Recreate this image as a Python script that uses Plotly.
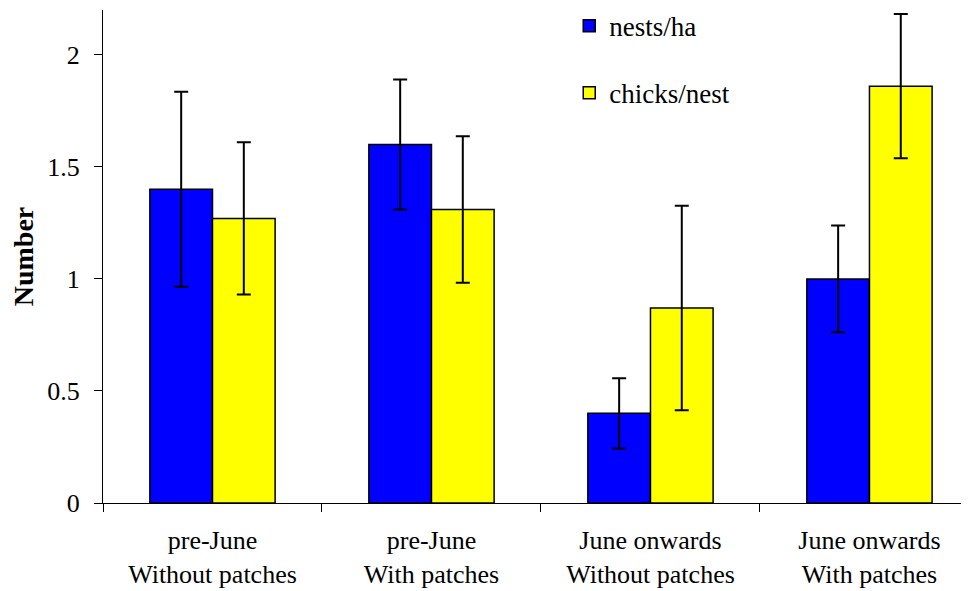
import plotly.graph_objects as go

categories = ["pre-June<br>Without patches", "pre-June<br>With patches",
              "June onwards<br>Without patches", "June onwards<br>With patches"]
nests_per_ha = [1.40, 1.60, 0.40, 1.00]
nests_err = [0.435, 0.29, 0.157, 0.238]
chicks_per_nest = [1.27, 1.31, 0.87, 1.86]
chicks_err = [0.34, 0.327, 0.456, 0.322]
y_ticks = [0, 0.5, 1, 1.5, 2]
y_tick_labels = ["0", "0.5", "1", "1.5", "2"]

FONT = "Liberation Serif"

fig = go.Figure()
fig.add_trace(go.Bar(
    x=categories, y=nests_per_ha, name="nests/ha",
    marker=dict(color="#0000FF", line=dict(color="black", width=1.5)),
    error_y=dict(type="data", array=nests_err, visible=True,
                 color="black", thickness=2, width=7),
    legendgroup="a",
))
fig.add_trace(go.Bar(
    x=categories, y=chicks_per_nest, name="chicks/nest",
    marker=dict(color="#FFFF00", line=dict(color="black", width=1.5)),
    error_y=dict(type="data", array=chicks_err, visible=True,
                 color="black", thickness=2, width=7),
    legendgroup="b",
))

fig.update_layout(
    width=969, height=591,
    margin=dict(l=95, r=9, t=2, b=95.5, autoexpand=False),
    paper_bgcolor="white", plot_bgcolor="white",
    barmode="group", bargap=0.428, bargroupgap=0,
    font=dict(family=FONT, size=26, color="black"),
    showlegend=True,
    legend=dict(x=0.539, y=1.017, xanchor="left", yanchor="top",
                bgcolor="rgba(0,0,0,0)", traceorder="grouped",
                tracegroupgap=29, font=dict(family=FONT, size=27)),
    xaxis=dict(
        range=[-0.5, 3.45], tickson="boundaries", ticks="outside",
        ticklen=8, tickcolor="black", showline=True, linecolor="black",
        linewidth=1, showgrid=False, tickfont=dict(family=FONT, size=26),
        tickangle=0, ticklabelstandoff=14,
    ),
    yaxis=dict(
        range=[0, 2.2], tickvals=y_ticks, ticktext=y_tick_labels,
        ticks="outside", ticklen=8, tickcolor="black", showline=True,
        linecolor="black", linewidth=1, showgrid=False, zeroline=False,
        tickfont=dict(family=FONT, size=26), ticklabelstandoff=9,
        title=dict(text="<b>Number</b>", font=dict(family=FONT, size=28),
                   standoff=17),
    ),
)

fig.write_html("out.html")
